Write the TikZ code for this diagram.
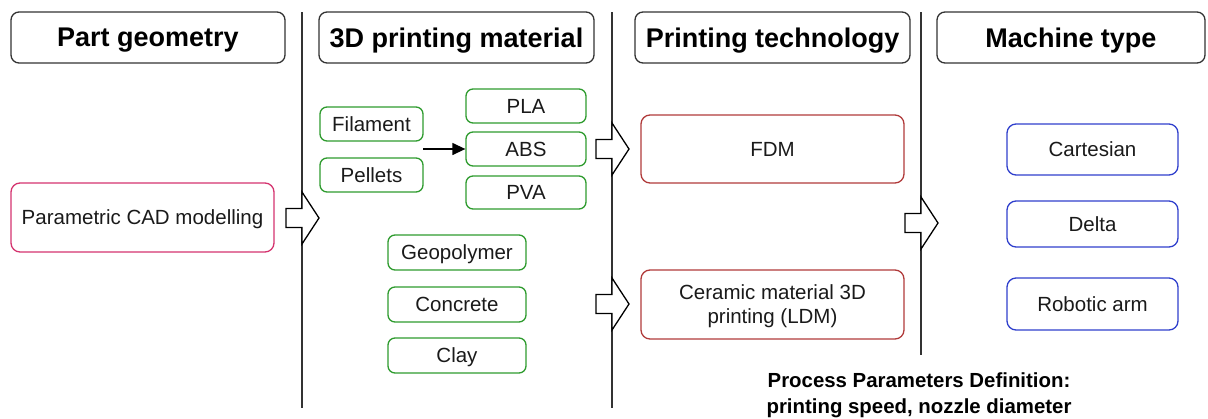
\documentclass[tikz,border=0pt]{standalone}
\usepackage{fontspec}
\setmainfont{Liberation Sans}
\usetikzlibrary{arrows.meta}
\definecolor{cpink}{HTML}{D4336E}
\definecolor{cgreen}{HTML}{2E9B2E}
\definecolor{cred}{HTML}{B03A3A}
\definecolor{cblue}{HTML}{2F3FCC}
\definecolor{cgray}{HTML}{333333}
\definecolor{ctext}{HTML}{1A1A1A}
\newcommand{\myblockarrow}[2]{%
  \draw[line width=1.3pt, fill=white, line join=miter]
    (#1-16,#2-9.5) -- (#1,#2-9.5) -- (#1,#2-26) -- (#1+17,#2) -- (#1,#2+26)
    -- (#1,#2+9.5) -- (#1-16,#2+9.5) -- cycle;}
\begin{document}
\begin{tikzpicture}[x=1pt,y=-1pt,
  hdr/.style={draw=cgray, line width=1.3pt, rounded corners=8pt, minimum height=51pt,
    inner sep=0pt, text depth=0pt, text=black, font=\bfseries\fontsize{27}{31}\selectfont},
  box/.style={line width=1.3pt, rounded corners=9pt, inner sep=0pt, align=center,
    text depth=0pt, text=ctext, font=\fontsize{20.5}{24}\selectfont},
  gbox/.style={box, draw=cgreen, rounded corners=7pt, minimum height=34pt},
  rbox/.style={box, draw=cred, minimum width=263pt},
  bbox/.style={box, draw=cblue, minimum width=171pt},
  divider/.style={line width=1.3pt, draw=cgray}
]
\useasboundingbox (0,0) rectangle (1208,418);

% dividers
\coordinate (d1t) at (302,12); \coordinate (d1b) at (302,408);
\coordinate (d2t) at (612,12); \coordinate (d2b) at (612,408);
\coordinate (d3t) at (921,12); \coordinate (d3b) at (921,355);
\draw[divider] (d1t) -- (d1b);
\draw[divider] (d2t) -- (d2b);
\draw[divider] (d3t) -- (d3b);

% headers
\node[hdr, minimum width=274pt] (h1) at (148,37.5) {Part geometry};
\node[hdr, minimum width=275pt] (h2) at (456.5,37.5) {3D printing material};
\node[hdr, minimum width=275pt] (h3) at (772.5,37.5) {Printing technology};
\node[hdr, minimum width=268pt] (h4) at (1071,37.5) {Machine type};

% part geometry
\node[box, draw=cpink, minimum width=263pt, minimum height=69pt] (cad) at (142.5,217.5) {Parametric CAD modelling};

% materials
\node[gbox, minimum width=103pt] (fil) at (371.5,124) {Filament};
\node[gbox, minimum width=103pt] (pel) at (371.5,175) {Pellets};
\node[gbox, minimum width=120pt] (pla) at (526,106) {PLA};
\node[gbox, minimum width=120pt] (abs) at (526,149) {ABS};
\node[gbox, minimum width=120pt, minimum height=33pt] (pva) at (526,192.5) {PVA};
\node[gbox, minimum width=138pt, minimum height=35pt] (geo) at (457,252.5) {Geopolymer};
\node[gbox, minimum width=138pt, minimum height=35pt] (con) at (457,304.5) {Concrete};
\node[gbox, minimum width=138pt, minimum height=35pt] (clay) at (457,355.5) {Clay};
\coordinate (fp) at (423,149);
\draw[line width=1.3pt, -{Triangle[length=13pt,width=12pt]}] (fp) -- (abs.west);

% technologies
\node[rbox, minimum height=68pt] (fdm) at (772.5,149) {FDM};
\node[rbox, minimum height=69pt] (ldm) at (772.5,304.5) {Ceramic material 3D\\printing (LDM)};

% machines
\node[bbox, minimum height=51pt] (cart) at (1092.5,149.5) {Cartesian};
\node[bbox, minimum height=46pt] (delta) at (1092.5,224) {Delta};
\node[bbox, minimum height=52pt] (robot) at (1092.5,304) {Robotic arm};

% block arrows
\myblockarrow{302}{218}
\myblockarrow{612}{149}
\myblockarrow{612}{304}
\myblockarrow{921}{223}

% process parameters
\node[align=center, inner sep=0pt, text=black, font=\bfseries\fontsize{20.4}{26}\selectfont] (proc) at (919,395)
  {Process Parameters Definition:\\printing speed, nozzle diameter};
\end{tikzpicture}
\end{document}
